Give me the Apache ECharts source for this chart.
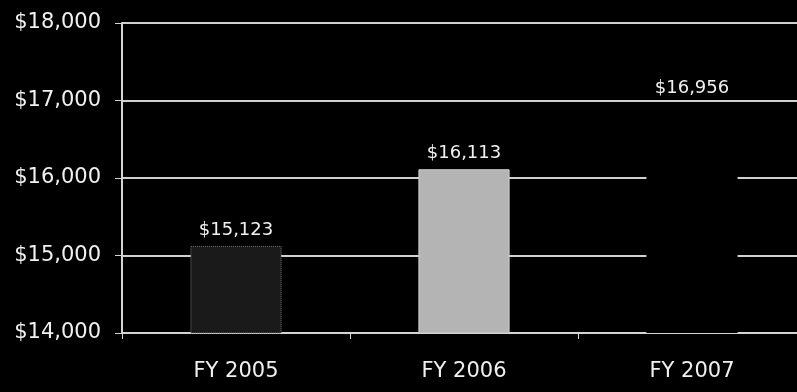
<!DOCTYPE html>
<html>
<head>
<meta charset="utf-8">
<script src="https://cdn.jsdelivr.net/npm/echarts@6/dist/echarts.min.js"></script>
<style>
  html, body { margin: 0; padding: 0; background: #000; }
  #chart { width: 797px; height: 392px; }
</style>
</head>
<body>
<div id="chart"></div>
<script>
// fiscal years and per-year amounts
const years = ["FY 2005", "FY 2006", "FY 2007"];
const amounts = [15123, 16113, 16956];
const yTicks = [14000, 15000, 16000, 17000, 18000];

// each bar has its own look in the scan
const barStyles = [
  { color: "#1a1a1a", borderColor: "#7a7a7a", borderWidth: 1, borderType: "dotted" },
  { color: "#b4b4b4", borderColor: "#d0d0d0", borderWidth: 1 },
  { color: "#000000" }
];

const fmt = v => "$" + v.toLocaleString("en-US");
const font = "DejaVu Sans, Verdana, sans-serif";

const chart = echarts.init(document.getElementById("chart"));
chart.setOption({
  backgroundColor: "#000",
  animation: false,
  // the plot runs a little past the right edge in the scan
  grid: { left: 122, width: 684, top: 23, height: 310, outerBoundsMode: "none" },
  xAxis: {
    type: "category",
    data: years,
    axisLine: { lineStyle: { color: "#d4d4d4", width: 2 } },
    axisTick: { show: true, length: 6, lineStyle: { color: "#d4d4d4" } },
    axisLabel: { color: "#f0f0f0", fontSize: 21, fontFamily: font, margin: 28 }
  },
  yAxis: {
    type: "value",
    min: yTicks[0],
    max: yTicks[yTicks.length - 1],
    interval: 1000,
    axisLine: { show: true, lineStyle: { color: "#d4d4d4", width: 2 } },
    axisTick: { show: true, length: 7, lineStyle: { color: "#d4d4d4" } },
    axisLabel: { color: "#f0f0f0", fontSize: 21, fontFamily: font, margin: 21, formatter: fmt },
    splitLine: { lineStyle: { color: "#d0d0d0", width: 2 } }
  },
  series: [{
    type: "bar",
    barWidth: "40%",
    data: amounts.map((v, i) => ({ value: v, itemStyle: barStyles[i] })),
    label: {
      show: true,
      position: "top",
      distance: 7,
      color: "#f0f0f0",
      fontSize: 18,
      fontFamily: font,
      formatter: p => fmt(p.value)
    }
  }]
});
</script>
</body>
</html>
